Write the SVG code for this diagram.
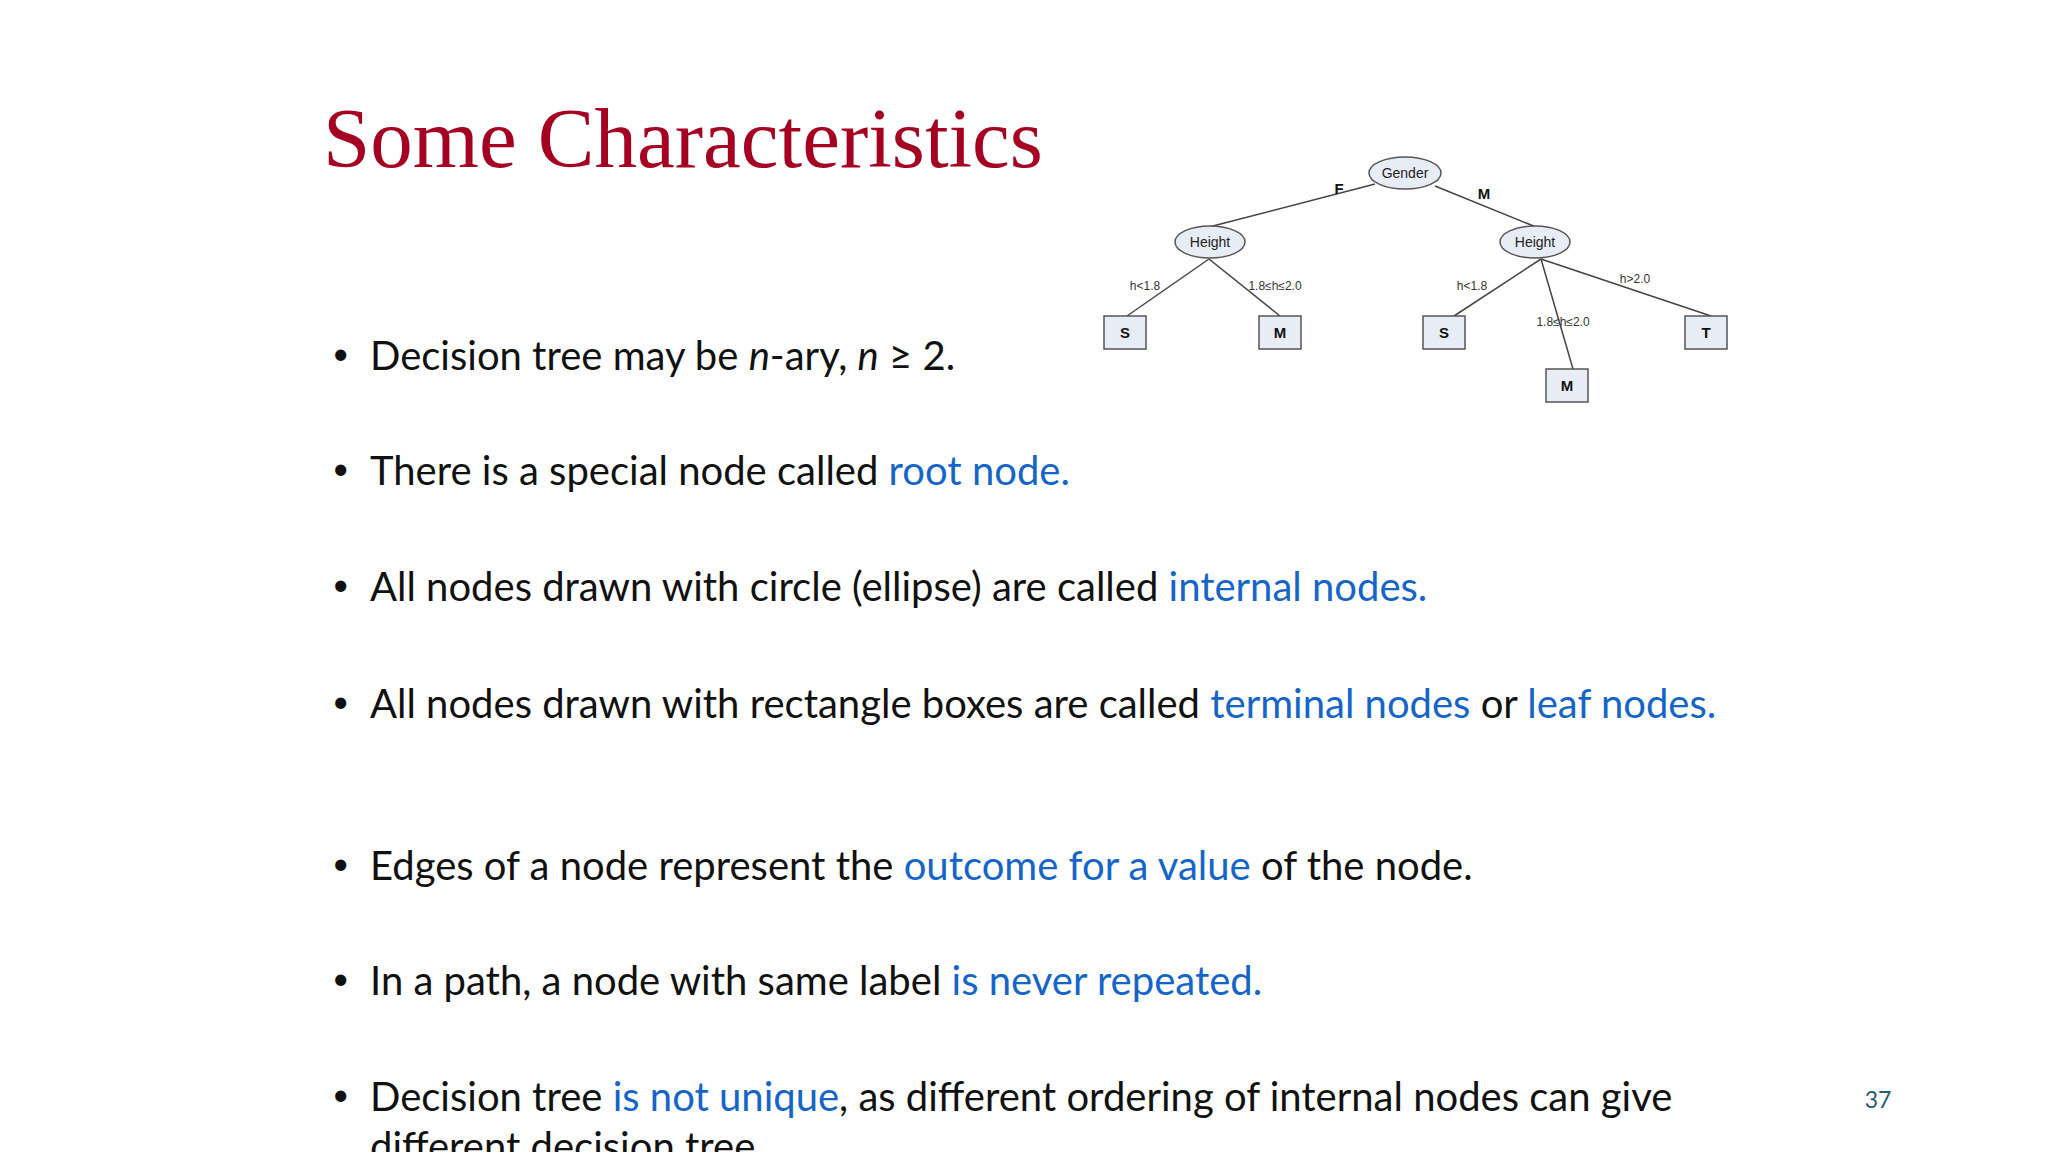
<svg xmlns="http://www.w3.org/2000/svg" width="2048" height="1152" viewBox="0 0 2048 1152">
<style>
.b{font-family:Lato,"Open Sans",sans-serif;font-size:40px;fill:#111}
.h{fill:#1565C8}
.n{fill:#e8edf5;stroke:#555;stroke-width:1.5}
.t{font-family:"Liberation Sans",Arial,sans-serif;font-size:14px;fill:#222;text-anchor:middle}
.lb{font-family:"Liberation Sans",Arial,sans-serif;font-size:15px;font-weight:bold;fill:#111;text-anchor:middle}
.e{font-family:"Liberation Sans",Arial,sans-serif;font-size:12px;fill:#333;text-anchor:middle}
line{stroke:#444;stroke-width:1.5}
</style>
<rect width="2048" height="1152" fill="#fff"/>
<text x="323" y="167" font-family="Liberation Serif,serif" font-size="85" fill="#A50021">Some Characteristics</text>
<g id="connectors">
<line x1="1375" y1="184" x2="1209" y2="227"/>
<line x1="1435" y1="186" x2="1536" y2="227"/>
<line x1="1209" y1="259" x2="1127" y2="316"/>
<line x1="1209" y1="259" x2="1280" y2="316"/>
<line x1="1541" y1="259" x2="1454" y2="316"/>
<line x1="1541" y1="259" x2="1573" y2="369"/>
<line x1="1541" y1="259" x2="1711" y2="316"/>
<text class="lb" x="1339" y="194">F</text>
<text class="lb" x="1484" y="199">M</text>
<text class="e" x="1145" y="290">h&lt;1.8</text>
<text class="e" x="1275" y="290">1.8≤h≤2.0</text>
<text class="e" x="1472" y="290">h&lt;1.8</text>
<text class="e" x="1563" y="326">1.8≤h≤2.0</text>
<text class="e" x="1635" y="283">h&gt;2.0</text>
</g>
<g id="gender"><ellipse class="n" cx="1405" cy="173" rx="36" ry="16"/><text class="t" x="1405" y="178">Gender</text></g>
<g id="heightL"><ellipse class="n" cx="1210" cy="242" rx="35" ry="16"/><text class="t" x="1210" y="247">Height</text></g>
<g id="heightR"><ellipse class="n" cx="1535" cy="242" rx="35" ry="16"/><text class="t" x="1535" y="247">Height</text></g>
<g id="s1"><rect class="n" x="1104" y="316" width="42" height="33"/><text class="lb" x="1125" y="338">S</text></g>
<g id="m1"><rect class="n" x="1259" y="316" width="42" height="33"/><text class="lb" x="1280" y="338">M</text></g>
<g id="s2"><rect class="n" x="1423" y="316" width="42" height="33"/><text class="lb" x="1444" y="338">S</text></g>
<g id="t"><rect class="n" x="1685" y="316" width="42" height="33"/><text class="lb" x="1706" y="338">T</text></g>
<g id="m2"><rect class="n" x="1546" y="369" width="42" height="33"/><text class="lb" x="1567" y="391">M</text></g>
<g font-family="Lato,sans-serif" font-size="30" fill="#111">
<text x="332" y="364">•</text><text x="332" y="479">•</text><text x="332" y="595">•</text><text x="332" y="712">•</text><text x="332" y="874">•</text><text x="332" y="989">•</text><text x="332" y="1105">•</text>
</g>
<text class="b" x="370" y="370">Decision tree may be <tspan font-style="italic">n</tspan>-ary, <tspan font-style="italic">n</tspan> ≥ 2.</text>
<text class="b" x="370" y="485">There is a special node called <tspan class="h">root node.</tspan></text>
<text class="b" x="370" y="601">All nodes drawn with circle (ellipse) are called <tspan class="h">internal nodes.</tspan></text>
<text class="b" x="370" y="718">All nodes drawn with rectangle boxes are called <tspan class="h">terminal nodes</tspan> or <tspan class="h">leaf nodes.</tspan></text>
<text class="b" x="370" y="880">Edges of a node represent the <tspan class="h">outcome for a value</tspan> of the node.</text>
<text class="b" x="370" y="995">In a path, a node with same label <tspan class="h">is never repeated.</tspan></text>
<text class="b" x="370" y="1111">Decision tree <tspan class="h">is not unique</tspan>, as different ordering of internal nodes can give</text>
<text class="b" x="370" y="1161">different decision tree.</text>
<text x="1878" y="1108" font-family="Lato,sans-serif" font-size="23" fill="#1F5F6F" text-anchor="middle">37</text>
</svg>
